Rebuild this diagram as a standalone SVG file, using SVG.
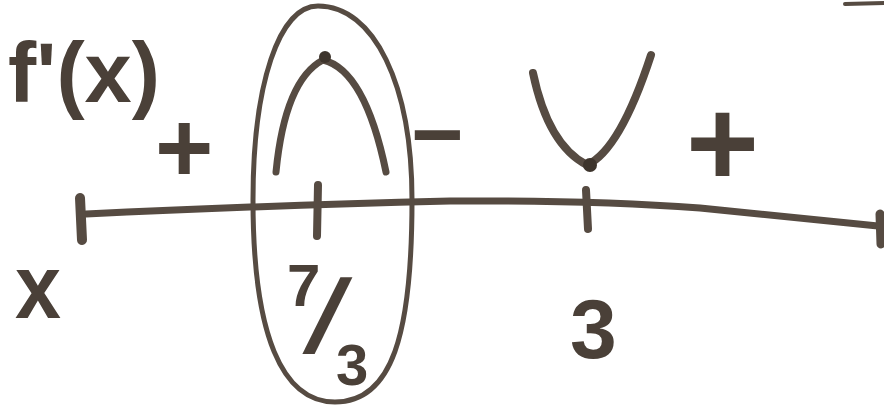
<svg xmlns="http://www.w3.org/2000/svg" width="884" height="407" viewBox="0 0 884 407">
<style>
.ink{fill:none;stroke:#564b42;stroke-linecap:round;stroke-linejoin:round}
.t{font-family:"Liberation Sans",Arial,sans-serif;font-weight:bold;fill:#4a4038}
</style>
<rect width="884" height="407" fill="#ffffff"/>
<g id="axis-line">
<path class="ink" stroke-width="7" d="M86 214 Q250 206 450 201 Q590 200 700 208 Q800 218 878 226"/>
<path class="ink" stroke-width="10" d="M80 198 L82 240"/>
<path class="ink" stroke-width="9" d="M880 214 L881 244"/>
<path class="ink" stroke-width="4" d="M845 4 L884 3"/>
</g>
<g id="label-fprime">
<text class="t" x="8" y="102" font-size="86" textLength="152" lengthAdjust="spacingAndGlyphs">f'(x)</text>
</g>
<g id="label-x">
<text class="t" x="15" y="318" font-size="90" textLength="46" lengthAdjust="spacingAndGlyphs">x</text>
</g>
<g id="sign-plus-left">
<text class="t" x="155" y="182" font-size="100">+</text>
</g>
<g id="crit-7-3">
<path class="ink" stroke-width="5" d="M318 6 C374 6 412 84 412 200 C412 335 392 402 335 402 C282 402 253 335 253 200 C253 84 279 6 318 6 Z"/>
<path class="ink" stroke-width="7" d="M276 172 Q285 80 323 60 Q365 70 386 172"/>
<circle cx="325" cy="57" r="6" fill="#3d342c"/>
<path class="ink" stroke-width="8" d="M318 185 L317 236"/>
<text class="t" x="287" y="306" font-size="60">7</text>
<text class="t" x="0" y="0" font-size="103" transform="translate(302 352) skewX(-17)">/</text>
<text class="t" x="336" y="385" font-size="58">3</text>
</g>
<g id="sign-minus">
<text class="t" x="411" y="165" font-size="90">−</text>
</g>
<g id="crit-3">
<path class="ink" stroke-width="8" d="M533 73 Q548 145 587 165 Q620 150 651 55"/>
<circle cx="590" cy="165" r="7" fill="#3d342c"/>
<path class="ink" stroke-width="8" d="M586 190 L588 229"/>
<text class="t" x="570" y="358" font-size="84">3</text>
</g>
<g id="sign-plus-right">
<text class="t" x="686" y="186" font-size="125">+</text>
</g>
</svg>
